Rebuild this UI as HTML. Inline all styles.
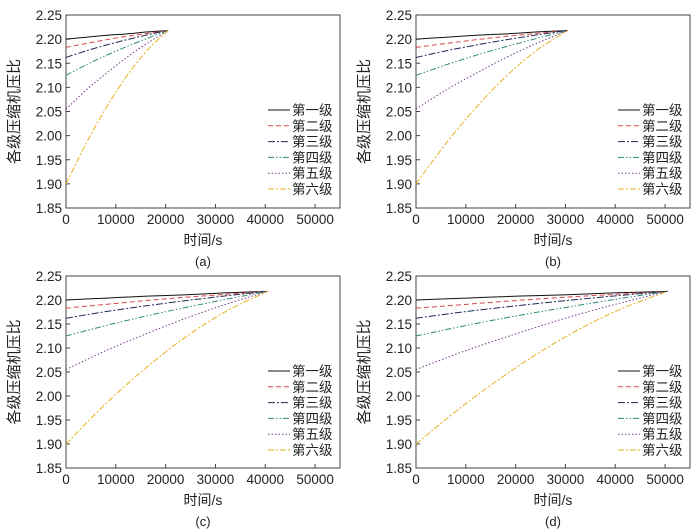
<!DOCTYPE html>
<html><head><meta charset="utf-8"><style>
body{margin:0;background:#fff;width:700px;height:532px;overflow:hidden}
svg{display:block}
text{font-family:"Liberation Sans","Noto Sans CJK SC",sans-serif;fill:#222}
</style></head><body>
<svg id="fig" width="700" height="532" viewBox="0 0 700 532" xmlns="http://www.w3.org/2000/svg"></svg>
<script>
const panelLabels = ["(a)","(b)","(c)","(d)"];
const endTimes = [20500, 30500, 40500, 50500];
const timeFractions = [0, 0.2, 0.4, 0.6, 0.8, 1];
const seriesNames = ["第一级","第二级","第三级","第四级","第五级","第六级"];
const stage1 = [2.200, 2.204, 2.208, 2.211, 2.215, 2.218];
const stage2 = [2.183, 2.191, 2.199, 2.206, 2.212, 2.218];
const stage3 = [2.162, 2.176, 2.188, 2.199, 2.209, 2.218];
const stage4 = [2.125, 2.147, 2.167, 2.185, 2.202, 2.218];
const stage5 = [2.055, 2.095, 2.130, 2.163, 2.192, 2.218];
const stage6 = [1.900, 1.985, 2.060, 2.125, 2.178, 2.218];
const xTicks = [0, 10000, 20000, 30000, 40000, 50000];
const yTicks = [1.85, 1.90, 1.95, 2.00, 2.05, 2.10, 2.15, 2.20, 2.25];

const allSeries = [stage1, stage2, stage3, stage4, stage5, stage6];
const colors = ["#111","#d9474f","#1f2a55","#2e8a7a","#7a3a8a","#e8b020"];
const dashes = ["", "5,3", "7,2,2,2", "6,2,1.5,2,1.5,2", "1.5,2", "6,2,2,2"];
const panels = [{l:66,t:15,r:340,b:208,ox:0,oy:0},{l:416,t:15,r:690,b:208,ox:350,oy:0},
                {l:66,t:276,r:340,b:468,ox:0,oy:270},{l:416,t:276,r:690,b:468,ox:350,oy:270}];
const NS="http://www.w3.org/2000/svg";
const fig=document.getElementById('fig');
function mk(tag,attrs,parent,txt){const e=document.createElementNS(NS,tag);for(const k in attrs)e.setAttribute(k,attrs[k]);if(txt!==undefined)e.textContent=txt;parent.appendChild(e);return e;}
panels.forEach((p,pi)=>{
  const g=mk('g',{},fig);
  
  
  const X=v=>p.l+(v/55000)*(p.r-p.l);
  const Y=v=>p.b-(v-1.85)/0.40*(p.b-p.t);
  const frame=mk('rect',{x:p.l,y:p.t,width:p.r-p.l,height:p.b-p.t,fill:'none',stroke:'#444','stroke-width':1},g);
  
  
  xTicks.forEach(v=>{
    mk('line',{x1:X(v),x2:X(v),y1:p.b,y2:p.b-4,stroke:'#444'},g);
    const t=mk('text',{x:X(v),y:p.b+16,'text-anchor':'middle','font-size':13.5},g,String(v));
    
    
  });
  yTicks.forEach(v=>{
    mk('line',{x1:p.l,x2:p.l+4,y1:Y(v),y2:Y(v),stroke:'#444'},g);
    const t=mk('text',{x:p.l-4,y:Y(v)+5,'text-anchor':'end','font-size':13.5},g,v.toFixed(2));
    
    
  });
  const yt=mk('text',{x:0,y:0,'text-anchor':'middle','font-size':15,transform:`translate(${p.ox+19},${(p.t+p.b)/2}) rotate(-90)`},g,'各级压缩机压比');
  
  
  const xt=mk('text',{x:(p.l+p.r)/2,y:p.b+37,'text-anchor':'middle','font-size':14},g,'时间/s');
  
  
  const pl=mk('text',{x:(p.l+p.r)/2,y:p.b+58,'text-anchor':'middle','font-size':13},g,panelLabels[pi]);
  
  
  allSeries.forEach((s,si)=>{
    const pts=s.map((v,i)=>[X(timeFractions[i]*endTimes[pi]),Y(v)]);
    let d=`M${pts[0][0]},${pts[0][1]}`;
    for(let i=0;i<pts.length-1;i++){
      const p0=pts[Math.max(0,i-1)],p1=pts[i],p2=pts[i+1],p3=pts[Math.min(pts.length-1,i+2)];
      d+=` C${p1[0]+(p2[0]-p0[0])/6},${p1[1]+(p2[1]-p0[1])/6} ${p2[0]-(p3[0]-p1[0])/6},${p2[1]-(p3[1]-p1[1])/6} ${p2[0]},${p2[1]}`;
    }
    const path=mk('path',{d:d,fill:'none',stroke:colors[si],'stroke-width':1,'stroke-dasharray':dashes[si]},g);
    
    
    const ly=p.t+95+si*15.8;
    const ll=mk('line',{x1:p.r-72,x2:p.r-50,y1:ly,y2:ly,stroke:colors[si],'stroke-dasharray':dashes[si]},g);
    
    
    const lt=mk('text',{x:p.r-48,y:ly+5,'font-size':13.5},g,seriesNames[si]);
    
    
  });
});
</script>
</body></html>
